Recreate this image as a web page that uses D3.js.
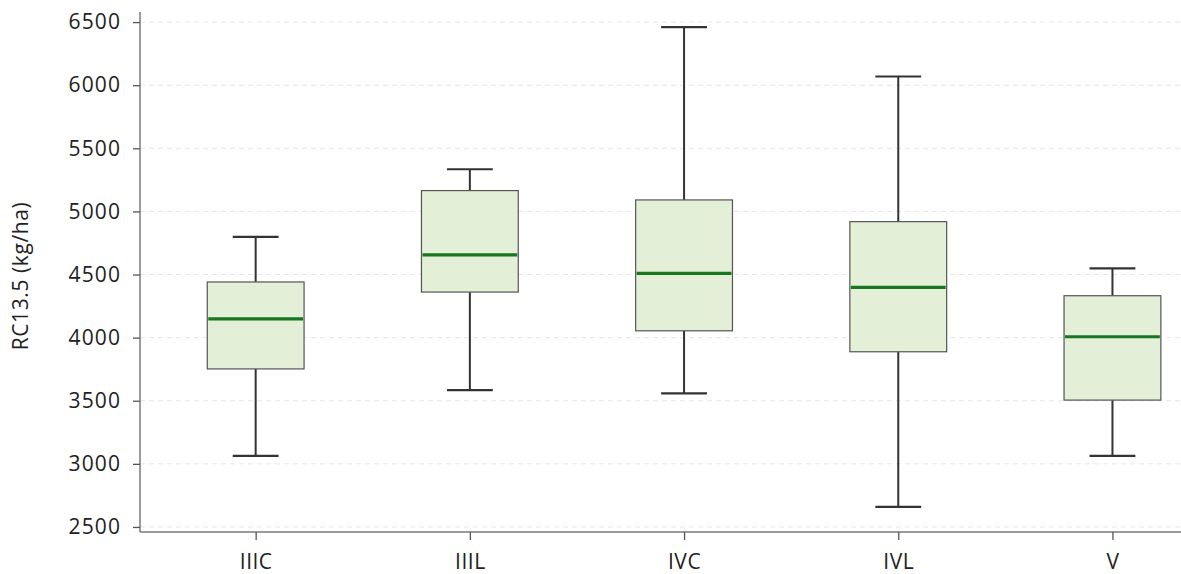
<!DOCTYPE html>
<html>
<head>
<meta charset="utf-8">
<script src="https://cdn.jsdelivr.net/npm/d3@7"></script>
<style>
  body { margin: 0; background: #fff; }
  svg { display: block; font-family: "Open Sans", sans-serif; }
  .tick text { fill: #222; }
</style>
</head>
<body>
<svg id="chart" width="1181" height="574"></svg>
<script>
// box plot data
var categories = ['IIIC', 'IIIL', 'IVC', 'IVL', 'V'];
var whiskerLow = [3063, 3584, 3558, 2659, 3063];
var q1 = [3752, 4361, 4054, 3888, 3505];
var medians = [4148, 4655, 4509, 4398, 4007];
var q3 = [4441, 5165, 5091, 4919, 4332];
var whiskerHigh = [4798, 5334, 6460, 6069, 4549];
var yTicks = [2500, 3000, 3500, 4000, 4500, 5000, 5500, 6000, 6500];

var svg = d3.select('#chart');
var plotLeft = 140, plotRight = 1181, plotTop = 12, plotBottom = 532;

var x = d3.scaleLinear().domain([-0.54, 4.32]).range([plotLeft, plotRight]);
var y = d3.scaleLinear().domain([2460, 6580]).range([plotBottom, plotTop]);

// grid
svg.append('g').selectAll('line').data(yTicks).enter().append('line')
    .attr('x1', plotLeft).attr('x2', plotRight)
    .attr('y1', function(d) { return y(d); }).attr('y2', function(d) { return y(d); })
    .attr('stroke', '#e6e6e6').attr('stroke-width', 1).attr('stroke-dasharray', '5,4');

// axes
var yAxis = svg.append('g').attr('transform', 'translate(' + plotLeft + ',0)')
    .call(d3.axisLeft(y).tickValues(yTicks).tickSize(7).tickPadding(12).tickFormat(d3.format('d')));
var xAxis = svg.append('g').attr('transform', 'translate(0,' + plotBottom + ')')
    .call(d3.axisBottom(x).tickValues(d3.range(categories.length)).tickSize(8).tickPadding(14)
        .tickFormat(function(i) { return categories[i]; }));

[yAxis, xAxis].forEach(function(ax) {
    ax.attr('font-size', 21).attr('font-family', '"Open Sans", sans-serif');
    ax.select('.domain').attr('stroke', '#7a7a7a').attr('stroke-width', 1.5);
    ax.selectAll('.tick line').attr('stroke', '#555').attr('stroke-width', 1.3);
});
yAxis.selectAll('.tick text').attr('letter-spacing', 1.1);
xAxis.selectAll('.tick text').attr('letter-spacing', 0.5);
// no end ticks on domain
yAxis.select('.domain').attr('d', 'M0,' + plotTop + 'V' + plotBottom);
xAxis.select('.domain').attr('d', 'M' + plotLeft + ',0H' + plotRight);

svg.append('text')
    .attr('transform', 'translate(28,' + ((plotTop + plotBottom) / 2 + 4) + ') rotate(-90)')
    .attr('text-anchor', 'middle')
    .attr('font-size', 21)
    .attr('letter-spacing', 0.6)
    .attr('fill', '#222')
    .text('RC13.5 (kg/ha)');

// boxes
var boxHalf = 0.226, capHalf = 0.107;
var g = svg.append('g');
categories.forEach(function(c, i) {
    var cx = x(i);
    // whiskers
    g.append('line').attr('x1', cx).attr('x2', cx)
        .attr('y1', y(q3[i])).attr('y2', y(whiskerHigh[i]))
        .attr('stroke', '#333').attr('stroke-width', 2);
    g.append('line').attr('x1', cx).attr('x2', cx)
        .attr('y1', y(q1[i])).attr('y2', y(whiskerLow[i]))
        .attr('stroke', '#333').attr('stroke-width', 2);
    [whiskerHigh[i], whiskerLow[i]].forEach(function(v) {
        g.append('line').attr('x1', x(i - capHalf)).attr('x2', x(i + capHalf))
            .attr('y1', y(v)).attr('y2', y(v))
            .attr('stroke', '#333').attr('stroke-width', 2.2);
    });
    g.append('rect')
        .attr('x', x(i - boxHalf)).attr('width', x(i + boxHalf) - x(i - boxHalf))
        .attr('y', y(q3[i])).attr('height', y(q1[i]) - y(q3[i]))
        .attr('fill', '#e3efd6').attr('stroke', '#555').attr('stroke-width', 1.2);
    g.append('line').attr('x1', x(i - boxHalf) + 1).attr('x2', x(i + boxHalf) - 1)
        .attr('y1', y(medians[i])).attr('y2', y(medians[i]))
        .attr('stroke', '#17761f').attr('stroke-width', 3.2);
});
</script>
</body>
</html>
